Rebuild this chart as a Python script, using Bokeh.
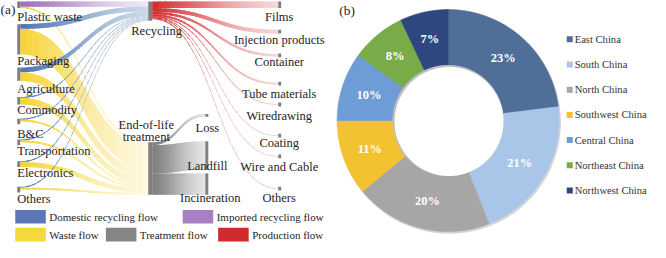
import numpy as np
from bokeh.plotting import figure
from bokeh.models import Range1d
from bokeh.core.properties import value
from bokeh.embed import file_html
from bokeh.resources import INLINE

# ---------------- data: (a) material flows ----------------
sources = ["Plastic waste", "Packaging", "Agriculture", "Commodity", "B&C",
           "Transportation", "Electronics", "Others"]
imported_recycling = [5.5, 0, 0, 0, 0, 0, 0, 0]
domestic_recycling = [0, 5, 5, 1, 1, 1, 1, 1]
waste_flow = [1.5, 27, 9, 7, 2, 2, 5, 2]

products = ["Films", "Injection products", "Container", "Tube materials",
            "Wiredrawing", "Coating", "Wire and Cable", "Others"]
production_flow = [7, 4, 2.5, 2, 1, 0.7, 0.7, 0.9]

treatments = ["Loss", "Landfill", "Incineration"]
treatment_flow = [3, 30, 22.5]

flow_legend = ["Domestic recycling flow", "Imported recycling flow", "Waste flow",
               "Treatment flow", "Production flow"]

# ---------------- data: (b) regional shares ----------------
regions = ["East China", "South China", "North China", "Southwest China",
           "Central China", "Northeast China", "Northwest China"]
shares = [23, 21, 20, 11, 10, 8, 7]

# ---------------- styles / layout ----------------
region_colors = ["#4F6E98", "#A9C5E8", "#A6A6A6", "#F2C230", "#6E9CD6", "#79AB48", "#2F477E"]
legend_colors = ["#5B77B8", "#A77FC2", "#F5D83A", "#858585", "#D12A2E"]
C_BLUE, C_PURPLE, C_YELLOW, C_GRAY, C_RED = "#4A74B0", "#9B6CB8", "#F6D22E", "#7C7C7C", "#D3262A"
NODE = "#7F7F7F"
TXT = "#1E1E1E"

W, H = 650, 242
X0, X1 = 3.0, 663.0
Y0, Y1 = 1.0, 257.0
sx, sy = W / (X1 - X0), H / (Y1 - Y0)
FONT = value("Liberation Serif")

SRC_X, SRC_W = 20, 3
src_top = [2, 26, 72, 103, 126, 148, 171, 198]
src_label_y = [18, 65, 95, 117, 142, 160, 184, 211]
MID_X, MID_W = 153, 4
REC_TOP, EOL_TOP = 2, 151
PROD_X, PROD_W = 285, 3
prod_top = [2, 32, 57, 87, 109, 142, 164, 198]
prod_label_y = [18, 43, 66, 100, 123, 152, 177, 210]
TRT_X, TRT_W = 211, 3
trt_top = [121, 150, 184]
trt_label_xy = [(213, 136), (213, 176), (216, 210)]

p = figure(width=W, height=H, x_range=Range1d(X0, X1), y_range=Range1d(Y1, Y0),
           output_backend="svg", toolbar_location=None, min_border=0,
           x_axis_location=None, y_axis_location=None)
p.grid.visible = False
p.outline_line_color = None
p.background_fill_color = "white"
p.border_fill_color = "white"


def mix(c, f):
    r, g, b = (int(c[i:i + 2], 16) for i in (1, 3, 5))
    return "#%02x%02x%02x" % tuple(int(round(v + (255 - v) * f)) for v in (r, g, b))


layers = {}


def ribbon(layer, x0, a0, b0, x1, a1, b1, base, fmax, gamma=0.8, n=30):
    xs_l, ys_l, c_l = layers.setdefault(layer, ([], [], []))
    xm = (x0 + x1) / 2.0
    for i in range(n):
        t0, t1 = i / n, min((i + 1.6) / n, 1.0)
        tt = np.linspace(t0, t1, 5)
        bx = x0 * (1 - tt) ** 3 + 3 * xm * (1 - tt) ** 2 * tt + 3 * xm * (1 - tt) * tt ** 2 + x1 * tt ** 3
        s = 3 * tt ** 2 - 2 * tt ** 3
        top = a0 + (a1 - a0) * s
        bot = b0 + (b1 - b0) * s
        xs_l.append(list(bx) + list(bx[::-1]))
        ys_l.append(list(top) + list(bot[::-1]))
        c_l.append(mix(base, fmax * ((i + 0.5) / n) ** gamma))


# --- source -> recycling / end-of-life ---
rec_y = REC_TOP
for i in range(len(sources)):
    if imported_recycling[i] > 0:
        y = src_top[i]
        v = imported_recycling[i]
        ribbon("purple", SRC_X + SRC_W, y, y + v, MID_X, rec_y, rec_y + v, C_PURPLE, 0.85)
        rec_y += v
eol_y = EOL_TOP
src_bar_h = []
for i in range(len(sources)):
    y = src_top[i] + imported_recycling[i]
    v = domestic_recycling[i]
    if v > 0:
        ribbon("blue", SRC_X + SRC_W, y, y + v, MID_X, rec_y, rec_y + v, C_BLUE, 0.72)
        rec_y += v
    y += v
    w = waste_flow[i]
    ribbon("yellow", SRC_X + SRC_W, y, y + w, MID_X, eol_y, eol_y + w, C_YELLOW, 0.85, 0.7)
    eol_y += w
    src_bar_h.append(max(imported_recycling[i] + domestic_recycling[i] + w, 6))
rec_h = rec_y - REC_TOP
eol_h = eol_y - EOL_TOP

# --- recycling -> products ---
y = REC_TOP
prod_bar_h = []
for j in range(len(products)):
    v = production_flow[j]
    bh = max(v, 4)
    prod_bar_h.append(bh)
    ty = prod_top[j] + (bh - v) / 2
    ribbon("red", MID_X + MID_W, y, y + v, PROD_X, ty, ty + v, C_RED, 0.82, 0.75)
    y += v
prod_total = y - REC_TOP

# --- end-of-life -> treatment ---
y = EOL_TOP
for k in range(len(treatments)):
    v = treatment_flow[k]
    ribbon("gray", MID_X + MID_W, y, y + v, TRT_X, trt_top[k], trt_top[k] + v, C_GRAY, 0.8, 0.9)
    y += v

for layer in ["yellow", "gray", "red", "purple", "blue"]:
    xs_l, ys_l, c_l = layers[layer]
    p.patches(xs_l, ys_l, fill_color=c_l, line_color=None)

# --- node bars ---
p.quad(left=[SRC_X] * len(sources), right=[SRC_X + SRC_W] * len(sources),
       top=src_top, bottom=[t + h for t, h in zip(src_top, src_bar_h)], fill_color=NODE, line_color=None)
p.quad(left=[MID_X, MID_X], right=[MID_X + MID_W] * 2,
       top=[REC_TOP, EOL_TOP], bottom=[REC_TOP + max(rec_h, prod_total), EOL_TOP + eol_h],
       fill_color=NODE, line_color=None)
p.quad(left=[PROD_X] * len(products), right=[PROD_X + PROD_W] * len(products),
       top=prod_top, bottom=[t + h for t, h in zip(prod_top, prod_bar_h)], fill_color=NODE, line_color=None)
p.quad(left=[TRT_X] * 3, right=[TRT_X + TRT_W] * 3,
       top=trt_top, bottom=[t + max(v, 3) for t, v in zip(trt_top, treatment_flow)],
       fill_color=NODE, line_color=None)

# --- node labels ---
lab = dict(text_font=FONT, text_font_size="12.5px", text_color=TXT, text_baseline="middle")
p.text(x=[SRC_X] * len(sources), y=src_label_y, text=sources, text_align="left", **lab)
p.text(x=[PROD_X + 1] * len(products), y=prod_label_y, text=products, text_align="center", **lab)
p.text(x=[t[0] for t in trt_label_xy], y=[t[1] for t in trt_label_xy], text=treatments,
       text_align="center", **lab)
p.text(x=[161.5, 151, 151], y=[33, 133, 145], text=["Recycling", "End-of-life", "treatment"],
       text_align="center", **lab)
p.text(x=[3, 347], y=[10, 12], text=["(a)", "(b)"], text_align="left",
       text_font=FONT, text_font_size="13.5px", text_color=TXT, text_baseline="middle")

# --- flow legend ---
leg_x = [18, 188, 18, 110, 224]
leg_y = [230, 230, 249, 249, 249]
p.quad(left=leg_x, right=[x + 31 for x in leg_x], top=[y - 7.5 for y in leg_y],
       bottom=[y + 7 for y in leg_y], fill_color=legend_colors, line_color=None)
p.text(x=[x + 34.5 for x in leg_x], y=leg_y, text=flow_legend, text_align="left",
       text_font=FONT, text_font_size="11px", text_color=TXT, text_baseline="middle")

# ---------------- (b) donut ----------------
cx, cy = 457.5, 128.0
R_OUT, R_IN = 111.0, 55.5  # screen px
frac = np.cumsum([0] + shares) / float(sum(shares)) * 2 * np.pi
ring = np.linspace(0, 2 * np.pi, 240)

# faint outer shadow
p.patch(cx + 1.2 / sx + (R_OUT + 0.6) / sx * np.sin(ring), cy + 1.6 / sy - (R_OUT + 0.6) / sy * np.cos(ring),
        fill_color="#d6d6d6", line_color=None)

dx, dy, dc = [], [], []
for k in range(len(shares)):
    a = np.linspace(frac[k], frac[k + 1], 80)
    ox = cx + R_OUT / sx * np.sin(a)
    oy = cy - R_OUT / sy * np.cos(a)
    ix = cx + R_IN / sx * np.sin(a[::-1])
    iy = cy - R_IN / sy * np.cos(a[::-1])
    dx.append(list(ox) + list(ix))
    dy.append(list(oy) + list(iy))
    dc.append(region_colors[k])
p.patches(dx, dy, fill_color=dc, line_color=dc, line_width=0.6)

# hole with slight inner shadow
p.patch(cx + R_IN / sx * np.sin(ring), cy - R_IN / sy * np.cos(ring), fill_color="#bdbdbd", line_color=None)
p.patch(cx + 0.9 / sx + (R_IN - 1.0) / sx * np.sin(ring), cy + 0.9 / sy - (R_IN - 1.0) / sy * np.cos(ring),
        fill_color="white", line_color=None)

mid = (frac[:-1] + frac[1:]) / 2
RL = (R_OUT + R_IN) / 2
p.text(x=cx + RL / sx * np.sin(mid), y=cy - RL / sy * np.cos(mid), text=[f"{s}%" for s in shares],
       text_align="center", text_baseline="middle", text_font=FONT, text_font_size="12.5px",
       text_font_style="bold", text_color="white")

# donut legend
ly = [42 + 26.67 * i for i in range(len(regions))]
p.scatter(x=[581] * len(regions), y=ly, marker="square", size=6, fill_color=region_colors, line_color=None)
p.text(x=[586] * len(regions), y=ly, text=regions, text_align="left", text_baseline="middle",
       text_font=FONT, text_font_size="10.6px", text_color="#333333")

open("out.html", "w").write(file_html(p, INLINE))
